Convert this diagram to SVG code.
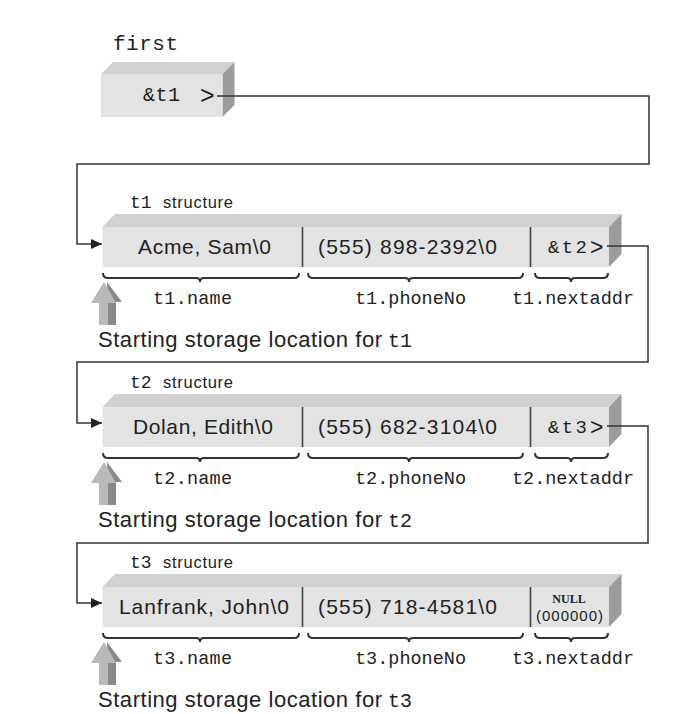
<svg xmlns="http://www.w3.org/2000/svg" width="674" height="714" viewBox="0 0 674 714">
<style>
.front{fill:#e3e3e3}
.top{fill:#d1d1d1}
.side{fill:#9c9c9c}
.div{stroke:#444;stroke-width:1.6}
.mono{font-family:"Liberation Mono","DejaVu Sans Mono",monospace;fill:#222}
.sans{font-family:"Liberation Sans","DejaVu Sans",sans-serif;fill:#222}
.brace{fill:none;stroke:#333;stroke-width:2}
.conn{fill:none;stroke:#333;stroke-width:1.5}
.arrL{fill:#b9b9b9}
.arrD{fill:#8a8a8a}
</style>
<defs>
<marker id="ah" markerUnits="userSpaceOnUse" markerWidth="12" markerHeight="10" refX="11" refY="5" orient="auto">
<path d="M0,0 L11,5 L0,10 Z" fill="#222"/>
</marker>
<g id="box">
<polygon class="top" points="102.5,227 115,214 621.5,214 609,227"/>
<polygon class="side" points="609,227 621.5,214 621.5,254 609,267"/>
<rect class="front" x="102.5" y="227" width="506.5" height="40"/>
<line class="div" x1="302.5" y1="227" x2="302.5" y2="267"/>
<line class="div" x1="530.5" y1="227" x2="530.5" y2="267"/>
<path class="brace" d="M103,273 Q103,278 108,278 L196,278 Q200,278 200,282 Q200,278 204,278 L294,278 Q299,278 299,273"/>
<path class="brace" d="M308,273 Q308,278 313,278 L405,278 Q409,278 409,282 Q409,278 413,278 L518,278 Q523,278 523,273"/>
<path class="brace" d="M535,273 Q535,278 540,278 L567,278 Q571,278 571,282 Q571,278 575,278 L603,278 Q608,278 608,273"/>
<polygon class="arrD" points="107,282 122,302 116,302 116,325 108,325"/>
<polygon class="arrL" points="104,282 91,303 99,303 99,325 108,325 108,303 116,303"/>
</g>
</defs>

<g id="first">
<text class="mono" x="113" y="50" font-size="21" textLength="65">first</text>
<polygon class="top" points="101,74 113,62 234.5,62 222.5,74"/>
<polygon class="side" points="222.5,74 234.5,62 234.5,105 222.5,117"/>
<rect class="front" x="101" y="74" width="121.5" height="43"/>
<text class="mono" x="143" y="101" font-size="20" textLength="37">&amp;t1</text>
<text class="sans" x="200" y="104" font-size="25">&gt;</text>
</g>

<g id="t1">
<use href="#box"/>
<text class="mono" x="130" y="208" font-size="18">t1</text>
<text class="sans" x="163" y="208" font-size="16.5" textLength="70">structure</text>
<text class="sans" x="138" y="254" font-size="21" textLength="133">Acme, Sam\0</text>
<text class="sans" x="318" y="254" font-size="21" textLength="179">(555) 898-2392\0</text>
<text class="mono" x="548" y="253" font-size="19" textLength="39">&amp;t2</text>
<text class="sans" x="590" y="255" font-size="23">&gt;</text>
<text class="mono" x="153" y="304" font-size="18.5" textLength="79">t1.name</text>
<text class="mono" x="355" y="304" font-size="18.5" textLength="111">t1.phoneNo</text>
<text class="mono" x="512" y="304" font-size="18.5" textLength="122">t1.nextaddr</text>
<text class="sans" x="98" y="347" font-size="22" textLength="284">Starting storage location for</text>
<text class="mono" x="388" y="347" font-size="20" textLength="24">t1</text>
</g>

<g id="t2" >
<use href="#box" y="180"/>
<text class="mono" x="130" y="388" font-size="18">t2</text>
<text class="sans" x="163" y="388" font-size="16.5" textLength="70">structure</text>
<text class="sans" x="133" y="434" font-size="21" textLength="140">Dolan, Edith\0</text>
<text class="sans" x="318" y="434" font-size="21" textLength="179">(555) 682-3104\0</text>
<text class="mono" x="548" y="433" font-size="19" textLength="39">&amp;t3</text>
<text class="sans" x="590" y="435" font-size="23">&gt;</text>
<text class="mono" x="153" y="484" font-size="18.5" textLength="79">t2.name</text>
<text class="mono" x="355" y="484" font-size="18.5" textLength="111">t2.phoneNo</text>
<text class="mono" x="512" y="484" font-size="18.5" textLength="122">t2.nextaddr</text>
<text class="sans" x="98" y="527" font-size="22" textLength="284">Starting storage location for</text>
<text class="mono" x="388" y="527" font-size="20" textLength="24">t2</text>
</g>

<g id="t3">
<use href="#box" y="360"/>
<text class="mono" x="130" y="568" font-size="18">t3</text>
<text class="sans" x="163" y="568" font-size="16.5" textLength="70">structure</text>
<text class="sans" x="119" y="614" font-size="21" textLength="170">Lanfrank, John\0</text>
<text class="sans" x="318" y="614" font-size="21" textLength="179">(555) 718-4581\0</text>
<text x="569" y="603" font-size="12" font-weight="bold" text-anchor="middle" font-family="'Liberation Serif',serif" fill="#222">NULL</text>
<text class="sans" x="536" y="621" font-size="15" textLength="67">(000000)</text>
<text class="mono" x="153" y="664" font-size="18.5" textLength="79">t3.name</text>
<text class="mono" x="355" y="664" font-size="18.5" textLength="111">t3.phoneNo</text>
<text class="mono" x="512" y="664" font-size="18.5" textLength="122">t3.nextaddr</text>
<text class="sans" x="98" y="707" font-size="22" textLength="284">Starting storage location for</text>
<text class="mono" x="388" y="707" font-size="20" textLength="24">t3</text>
</g>

<g id="connectors">
<polyline class="conn" points="217,96 649,96 649,164 77,164 77,244 102,244" marker-end="url(#ah)"/>
<polyline class="conn" points="607,246 648,246 648,362 77,362 77,423 102,423" marker-end="url(#ah)"/>
<polyline class="conn" points="607,426 648,426 648,543 77,543 77,603 102,603" marker-end="url(#ah)"/>
</g>
</svg>
